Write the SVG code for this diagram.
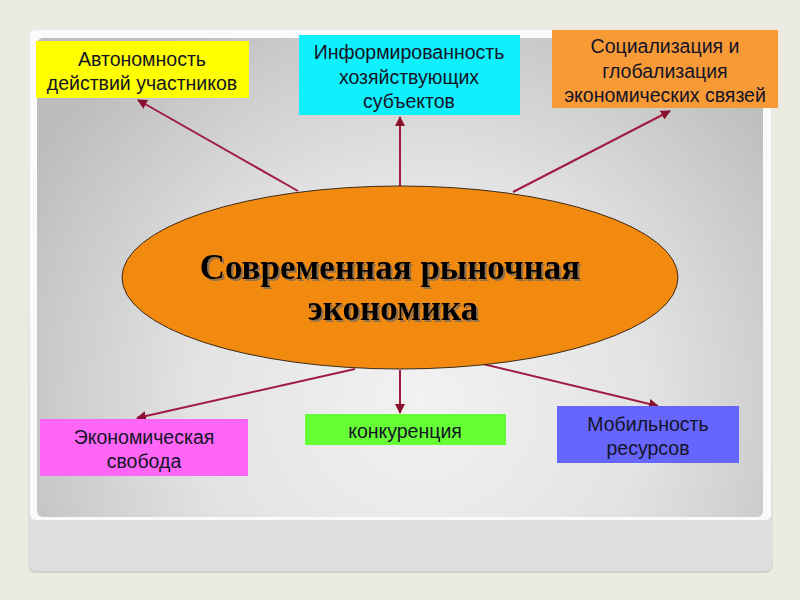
<svg xmlns="http://www.w3.org/2000/svg" width="800" height="600" viewBox="0 0 800 600">
<style>
.box-text{font-family:"Liberation Sans",Arial,sans-serif;font-size:19.5px;fill:#141428;text-anchor:middle}
.title{font-family:"Liberation Serif","Times New Roman",serif;font-size:35px;font-weight:bold;fill:#000;text-anchor:middle;filter:url(#shadow)}
.conn{stroke:#a01c40;stroke-width:2;fill:none;marker-end:url(#arr)}
</style>
<defs>
<marker id="arr" viewBox="0 0 10 10" refX="9" refY="5" markerWidth="5" markerHeight="5" orient="auto">
<path d="M0,0 L10,5 L0,10 z" fill="#8a1030"/>
</marker>
<filter id="shadow" x="-10%" y="-30%" width="120%" height="160%">
<feDropShadow dx="2" dy="2" stdDeviation="0.6" flood-color="#7a6a5a" flood-opacity="0.8"/>
</filter>
<radialGradient id="panel" cx="420" cy="400" r="450" gradientUnits="userSpaceOnUse">
<stop offset="0" stop-color="#f2f2f2"/>
<stop offset="0.5" stop-color="#e3e3e3"/>
<stop offset="1" stop-color="#bdbdbd"/>
</radialGradient>
<linearGradient id="bottom" x1="0" y1="0" x2="0" y2="1">
<stop offset="0" stop-color="#ececec"/>
<stop offset="1" stop-color="#dedede"/>
</linearGradient>
</defs>
<rect x="0" y="0" width="800" height="600" fill="#ecebe2"/>
<g id="frame">
<rect x="28" y="32" width="745" height="541" rx="8" fill="#cfcfcf"/>
<rect x="28" y="30" width="745" height="541" rx="8" fill="url(#bottom)"/>
<rect x="30" y="30" width="741" height="490" rx="6" fill="#fafafa"/>
<rect x="37" y="38" width="726" height="479" rx="6" fill="url(#panel)"/>
</g>
<g id="connectors">
<line class="conn" x1="298" y1="191" x2="138" y2="100"/>
<line class="conn" x1="400" y1="186" x2="400" y2="117"/>
<line class="conn" x1="513" y1="192" x2="670" y2="111"/>
<line class="conn" x1="355" y1="369" x2="137" y2="418"/>
<line class="conn" x1="400" y1="370" x2="400" y2="413"/>
<line class="conn" x1="483" y1="364" x2="658" y2="406"/>
</g>
<g id="center">
<ellipse cx="400" cy="277.5" rx="278" ry="91.5" fill="#f28a0f" stroke="#3a2a1a" stroke-width="1"/>
<text class="title" x="390" y="279">Современная рыночная</text>
<text class="title" x="393" y="320">экономика</text>
</g>
<g id="autonomy">
<rect x="36" y="41" width="213" height="57" fill="#ffff00"/>
<text class="box-text" x="142" y="66">Автономность</text>
<text class="box-text" x="142" y="90">действий участников</text>
</g>
<g id="informed">
<rect x="299" y="35" width="221" height="80" fill="#0ef0fb"/>
<text class="box-text" x="409" y="59">Информированность</text>
<text class="box-text" x="409" y="84">хозяйствующих</text>
<text class="box-text" x="409" y="108">субъектов</text>
</g>
<g id="socialization">
<rect x="552" y="30" width="226" height="78" fill="#f89a36"/>
<text class="box-text" x="665" y="53">Социализация и</text>
<text class="box-text" x="665" y="78">глобализация</text>
<text class="box-text" x="665" y="102">экономических связей</text>
</g>
<g id="freedom">
<rect x="40" y="419" width="208" height="57" fill="#ff66f7"/>
<text class="box-text" x="144" y="444">Экономическая</text>
<text class="box-text" x="144" y="468">свобода</text>
</g>
<g id="competition">
<rect x="305" y="414" width="201" height="31" fill="#66ff33"/>
<text class="box-text" x="405" y="438">конкуренция</text>
</g>
<g id="mobility">
<rect x="557" y="406" width="182" height="57" fill="#6666ff"/>
<text class="box-text" x="648" y="431">Мобильность</text>
<text class="box-text" x="648" y="455">ресурсов</text>
</g>
</svg>
